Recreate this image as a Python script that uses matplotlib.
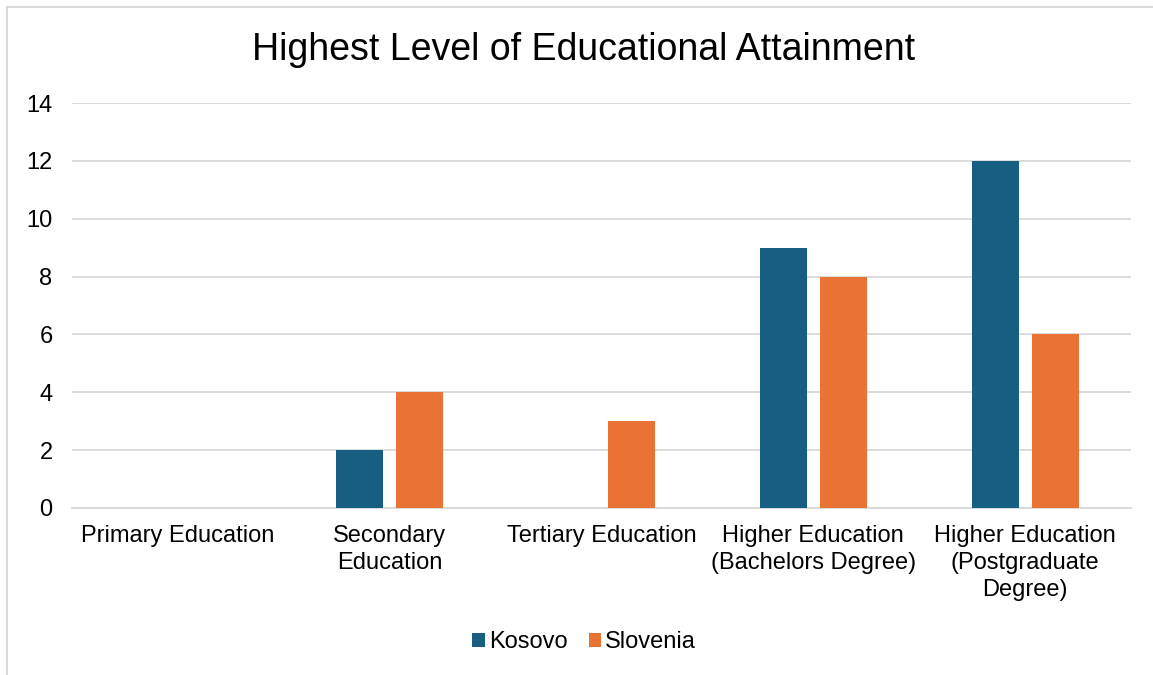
import numpy as np
import matplotlib.pyplot as plt
from matplotlib.patches import Rectangle

categories = [
    "Primary Education",
    "Secondary\nEducation",
    "Tertiary Education",
    "Higher Education\n(Bachelors Degree)",
    "Higher Education\n(Postgraduate\nDegree)",
]
kosovo = [0, 2, 0, 9, 12]
slovenia = [0, 4, 3, 8, 6]

blue = "#175f82"
orange = "#e97334"
grid_grey = "#d9d9d9"

plt.rcParams["font.family"] = ["Liberation Sans", "DejaVu Sans"]

fig = plt.figure(figsize=(11.53, 6.75), dpi=100)
W, H = 1153, 675
ax = fig.add_axes([72 / W, 1 - 508 / H, (1131 - 72) / W, (508 - 103) / H])

x = np.arange(len(categories))
bw = 0.222
off = 0.142
ax.bar(x - off, kosovo, bw, color=blue, label="Kosovo", zorder=3)
ax.bar(x + off, slovenia, bw, color=orange, label="Slovenia", zorder=3)

ax.set_xlim(-0.5, len(categories) - 0.5)
ax.set_ylim(0, 14)
ax.set_yticks(range(0, 15, 2))
ax.yaxis.grid(True, color=grid_grey, linewidth=1.3, zorder=0)
ax.set_axisbelow(True)
for s in ["top", "right", "left"]:
    ax.spines[s].set_visible(False)
ax.spines["bottom"].set_color(grid_grey)
ax.spines["bottom"].set_linewidth(1.3)
ax.tick_params(axis="both", length=0, labelsize=17, colors="#000000")
ax.tick_params(axis="y", pad=14)
ax.tick_params(axis="x", pad=12)
ax.set_xticks(x)
ax.set_xticklabels(categories, linespacing=1.3)

# chart frame runs from x=7 to past the right edge, so centre title/legend on it
cx = 584 / W
fig.text(cx, 1 - 50 / H, "Highest Level of Educational Attainment",
         ha="center", va="center", fontsize=27)

fig.legend(loc="center", bbox_to_anchor=(cx, 1 - 642 / H), ncol=2,
           frameon=False, fontsize=17, handlelength=0.55, handleheight=0.55,
           handletextpad=0.15, columnspacing=0.9)

# outer chart border
fig.patches.append(Rectangle((7 / W, -0.1), 1.2, 1 - 7 / H + 0.1,
                             transform=fig.transFigure, fill=False,
                             edgecolor=grid_grey, linewidth=1.5))

fig.savefig("out.png", dpi=100, facecolor="white")
